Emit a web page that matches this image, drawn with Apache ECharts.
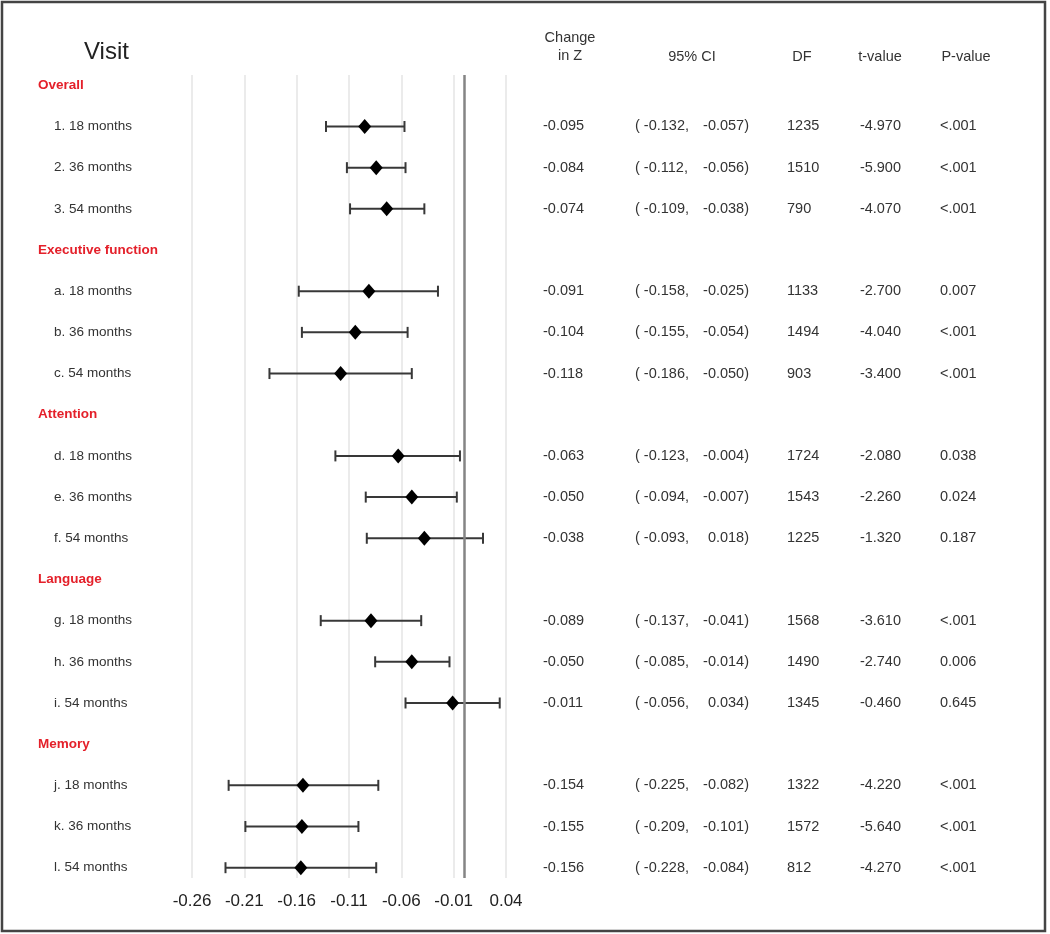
<!DOCTYPE html>
<html>
<head>
<meta charset="utf-8">
<script src="https://cdn.jsdelivr.net/npm/echarts@6/dist/echarts.min.js"></script>
<style>
html,body{margin:0;padding:0;background:#fff;}
#chart{width:1050px;height:934px;}
</style>
</head>
<body>
<div id="chart"></div>
<script>
// ---- data ----
const sections = ['Overall', 'Executive function', 'Attention', 'Language', 'Memory'];
const visitLabels = ['1. 18 months', '2. 36 months', '3. 54 months',
  'a. 18 months', 'b. 36 months', 'c. 54 months',
  'd. 18 months', 'e. 36 months', 'f. 54 months',
  'g. 18 months', 'h. 36 months', 'i. 54 months',
  'j. 18 months', 'k. 36 months', 'l. 54 months'];
const changeZ = [-0.095, -0.084, -0.074, -0.091, -0.104, -0.118, -0.063, -0.050, -0.038, -0.089, -0.050, -0.011, -0.154, -0.155, -0.156];
const ciLow = [-0.132, -0.112, -0.109, -0.158, -0.155, -0.186, -0.123, -0.094, -0.093, -0.137, -0.085, -0.056, -0.225, -0.209, -0.228];
const ciHigh = [-0.057, -0.056, -0.038, -0.025, -0.054, -0.050, -0.004, -0.007, 0.018, -0.041, -0.014, 0.034, -0.082, -0.101, -0.084];
const dfValues = [1235, 1510, 790, 1133, 1494, 903, 1724, 1543, 1225, 1568, 1490, 1345, 1322, 1572, 812];
const tValues = [-4.970, -5.900, -4.070, -2.700, -4.040, -3.400, -2.080, -2.260, -1.320, -3.610, -2.740, -0.460, -4.220, -5.640, -4.270];
const pValues = ['<.001', '<.001', '<.001', '0.007', '<.001', '<.001', '0.038', '0.024', '0.187', '<.001', '0.006', '0.645', '<.001', '<.001', '<.001'];
const tickLabels = [-0.26, -0.21, -0.16, -0.11, -0.06, -0.01, 0.04];
const headers = ['Change\nin Z', '95% CI', 'DF', 't-value', 'P-value'];

// ---- layout helpers ----
const FONT = "'Liberation Sans', Arial, sans-serif";
const rowOf = i => Math.floor(i / 3) * 4 + (i % 3) + 1;
const sectionRow = s => s * 4;

const errData = changeZ.map((v, i) => [rowOf(i), ciLow[i], ciHigh[i]]);
const pointData = changeZ.map((v, i) => [v, rowOf(i)]);

// table/label data on pixel-column grid (x in px, y in row index)
function textSeries(name, x, rows, texts, opts) {
  return {
    type: 'custom', name: name, xAxisIndex: 1, yAxisIndex: 1, silent: true,
    data: rows.map((r, k) => [x, r, k]),
    renderItem: function (params, api) {
      const p = api.coord([api.value(0), api.value(1)]);
      const k = api.value(2);
      return {
        type: 'text', x: p[0], y: p[1],
        style: {
          text: texts[k], textAlign: opts.align, textVerticalAlign: 'middle',
          fill: opts.color, fontSize: opts.size, fontWeight: opts.weight || 'normal',
          fontFamily: FONT
        }
      };
    }
  };
}

const itemRows = changeZ.map((v, i) => rowOf(i));
const secRows = sections.map((s, i) => sectionRow(i));
const TXT = '#333';

const chart = echarts.init(document.getElementById('chart'));
chart.setOption({
  animation: false,
  backgroundColor: '#fff',
  grid: [
    { left: 192, width: 314, top: 75, height: 803 },
    { left: 0, width: 1050, top: 75, height: 803 }
  ],
  xAxis: [
    {
      type: 'value', gridIndex: 0, min: -0.26, max: 0.04,
      axisLine: { show: false },
      axisTick: { show: false, customValues: tickLabels },
      axisLabel: {
        customValues: tickLabels, color: '#222', fontSize: 17, fontFamily: FONT, margin: 15,
        formatter: v => v.toFixed(2)
      },
      splitLine: { show: true, lineStyle: { color: '#e4e4e4', width: 1.5 } }
    },
    { type: 'value', gridIndex: 1, min: 0, max: 1050, show: false }
  ],
  yAxis: [
    { type: 'value', gridIndex: 0, min: -0.25, max: 19.25, inverse: true, show: false },
    { type: 'value', gridIndex: 1, min: -0.25, max: 19.25, inverse: true, show: false }
  ],
  graphic: [
    { type: 'rect', shape: { x: 2, y: 2, width: 1043, height: 929 }, style: { fill: 'none', stroke: '#444', lineWidth: 2.5 }, silent: true },
    { type: 'text', x: 84, y: 52, style: { text: 'Visit', fontSize: 24, fill: '#222', fontFamily: FONT, textVerticalAlign: 'middle' } },
    { type: 'text', x: 570, y: 47, style: { text: headers[0], fontSize: 14.5, fill: TXT, fontFamily: FONT, textAlign: 'center', textVerticalAlign: 'middle', lineHeight: 18 } },
    { type: 'text', x: 692, y: 57, style: { text: headers[1], fontSize: 14.5, fill: TXT, fontFamily: FONT, textAlign: 'center', textVerticalAlign: 'middle' } },
    { type: 'text', x: 802, y: 57, style: { text: headers[2], fontSize: 14.5, fill: TXT, fontFamily: FONT, textAlign: 'center', textVerticalAlign: 'middle' } },
    { type: 'text', x: 880, y: 57, style: { text: headers[3], fontSize: 14.5, fill: TXT, fontFamily: FONT, textAlign: 'center', textVerticalAlign: 'middle' } },
    { type: 'text', x: 966, y: 57, style: { text: headers[4], fontSize: 14.5, fill: TXT, fontFamily: FONT, textAlign: 'center', textVerticalAlign: 'middle' } }
  ],
  series: [
    {
      type: 'custom', name: 'CI', xAxisIndex: 0, yAxisIndex: 0, silent: true,
      data: errData,
      encode: { x: [1, 2], y: 0 },
      renderItem: function (params, api) {
        const a = api.coord([api.value(1), api.value(0)]);
        const b = api.coord([api.value(2), api.value(0)]);
        const h = 5.5;
        const st = { stroke: '#383838', lineWidth: 2 };
        return {
          type: 'group', children: [
            { type: 'line', shape: { x1: a[0], y1: a[1], x2: b[0], y2: b[1] }, style: st },
            { type: 'line', shape: { x1: a[0], y1: a[1] - h, x2: a[0], y2: a[1] + h }, style: st },
            { type: 'line', shape: { x1: b[0], y1: b[1] - h, x2: b[0], y2: b[1] + h }, style: st }
          ]
        };
      },
      z: 3
    },
    {
      type: 'scatter', name: 'Change in Z', xAxisIndex: 0, yAxisIndex: 0, silent: true,
      data: pointData, symbol: 'diamond', symbolSize: [13, 15],
      itemStyle: { color: '#000', opacity: 1 },
      z: 4,
      markLine: {
        silent: true, symbol: 'none', label: { show: false },
        lineStyle: { color: '#858585', width: 2.5, type: 'solid' },
        data: [{ xAxis: 0 }]
      }
    },
    textSeries('sections', 38, secRows, sections, { align: 'left', color: '#e4202a', size: 13.5, weight: 'bold' }),
    textSeries('visits', 54, itemRows, visitLabels, { align: 'left', color: TXT, size: 13.5 }),
    textSeries('changeZ', 543, itemRows, changeZ.map(v => v.toFixed(3)), { align: 'left', color: TXT, size: 14.5 }),
    textSeries('ciLow', 635, itemRows, ciLow.map(v => '( ' + v.toFixed(3) + ','), { align: 'left', color: TXT, size: 14.5 }),
    textSeries('ciHigh', 749, itemRows, ciHigh.map(v => v.toFixed(3) + ')'), { align: 'right', color: TXT, size: 14.5 }),
    textSeries('df', 787, itemRows, dfValues.map(v => String(v)), { align: 'left', color: TXT, size: 14.5 }),
    textSeries('t', 901, itemRows, tValues.map(v => v.toFixed(3)), { align: 'right', color: TXT, size: 14.5 }),
    textSeries('p', 940, itemRows, pValues, { align: 'left', color: TXT, size: 14.5 })
  ]
});
</script>
</body>
</html>
